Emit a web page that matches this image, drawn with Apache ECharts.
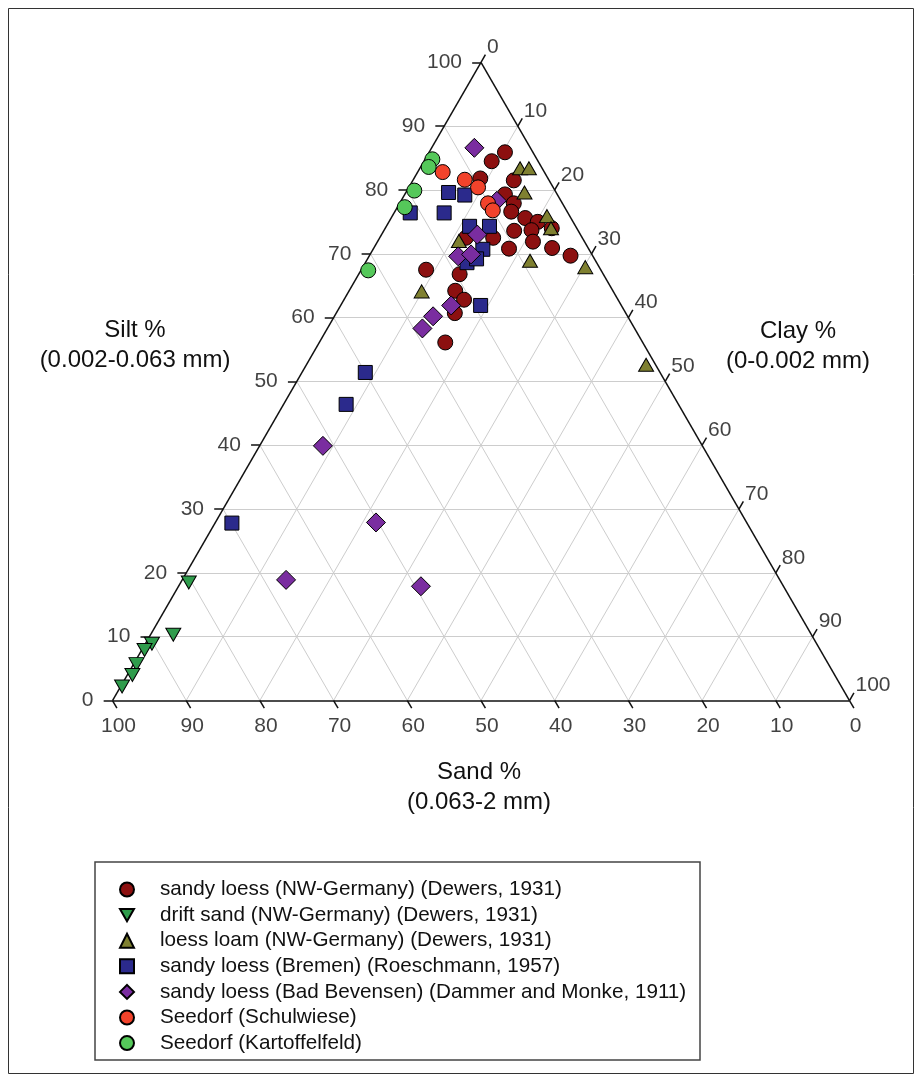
<!DOCTYPE html>
<html><head><meta charset="utf-8">
<script src="https://cdn.jsdelivr.net/npm/echarts@6/dist/echarts.min.js"></script>
<style>html,body{margin:0;padding:0;background:#fff}#c{width:922px;height:1082px}</style>
</head><body><div id="c"></div>
<script>
// Each point: [sand %, silt %, clay %]
const sandyLoessNW = [
  [3.8,85.9,10.3],[6.3,84.5,9.2],[9.2,81.8,9.0],[4.8,81.5,13.7],[7.1,79.3,13.6],
  [6.6,77.9,15.5],[7.6,76.6,15.8],[6.2,75.6,18.2],[4.8,75.0,20.2],[3.4,74.0,22.6],
  [6.3,73.7,20.0],[8.7,73.6,17.7],[7.0,71.9,21.1],[10.8,70.8,18.4],[4.9,70.9,24.2],
  [3.0,69.7,27.3],[15.8,72.5,11.7],[12.1,72.5,15.4],[23.7,67.5,8.8],[19.5,66.8,13.7],
  [21.4,64.2,14.4],[20.9,62.8,16.3],[23.2,60.7,16.1],[26.8,56.1,17.1]
];
const driftSand = [
  [80.4,18.5,1.1],[86.6,10.3,3.1],[90.2,8.9,0.9],[91.7,7.9,0.4],[93.9,5.7,0.4],
  [95.3,4.0,0.7],[97.6,2.2,0.2]
];
const loessLoam = [
  [3.0,83.4,13.6],[1.8,83.4,14.8],[4.3,79.6,16.1],[3.1,75.9,21.0],[3.5,74.0,22.5],
  [8.9,68.9,22.2],[1.9,67.9,30.2],[17.0,72.0,11.0],[26.0,64.1,9.9],[1.3,52.6,46.1]
];
const sandyLoessBremen = [
  [14.6,79.6,5.8],[12.6,79.2,8.2],[16.8,76.4,6.8],[21.4,76.4,2.2],[14.4,74.3,11.3],
  [11.7,74.3,14.0],[14.4,70.7,14.9],[17.6,68.6,13.8],[16.0,69.2,14.8],[19.1,61.9,19.0],
  [40.0,51.4,8.6],[45.1,46.4,8.5],[69.9,27.8,2.3]
];
const sandyLoessBevensen = [
  [7.6,86.6,5.8],[8.7,78.3,13.0],[14.0,73.0,13.0],[18.3,69.6,12.1],[16.4,69.9,13.7],
  [23.1,61.9,15.0],[26.4,60.2,13.4],[28.8,58.3,12.9],[51.5,39.9,8.6],[50.3,27.9,21.8],
  [67.0,18.9,14.1],[49.2,17.9,32.9]
];
const seedorfSchulwiese = [
  [13.8,82.8,3.4],[11.4,81.6,7.0],[10.2,80.4,9.4],[10.1,77.9,12.0],[10.0,76.8,13.2]
];
const seedorfKartoffelfeld = [
  [14.2,84.8,1.0],[15.3,83.6,1.1],[19.1,79.9,1.0],[21.7,77.3,1.0],[31.6,67.4,1.0]
];
const seriesNames = [
  'sandy loess (NW-Germany) (Dewers, 1931)',
  'drift sand (NW-Germany) (Dewers, 1931)',
  'loess loam (NW-Germany) (Dewers, 1931)',
  'sandy loess (Bremen) (Roeschmann, 1957)',
  'sandy loess (Bad Bevensen) (Dammer and Monke, 1911)',
  'Seedorf (Schulwiese)',
  'Seedorf (Kartoffelfeld)'
];
const tickValues = [0,10,20,30,40,50,60,70,80,90,100];
const gridValues = [10,20,30,40,50,60,70,80,90];
const axisTitles = ['Silt %\n(0.002-0.063 mm)', 'Clay %\n(0-0.002 mm)', 'Sand %\n(0.063-2 mm)'];

const H = Math.sqrt(3) / 2;
// ternary [sand, silt, clay] -> cartesian [x, y] in the library's value space
function toXY(t) { return [t[2] + t[1] / 2, t[1] * H]; }

const FONT = "'Liberation Sans', Arial, sans-serif";

const gridLines = [];
gridValues.forEach(v => {
  gridLines.push({coords: [toXY([100 - v, v, 0]), toXY([0, v, 100 - v])]});
  gridLines.push({coords: [toXY([100 - v, 0, v]), toXY([0, 100 - v, v])]});
  gridLines.push({coords: [toXY([v, 0, 100 - v]), toXY([v, 100 - v, 0])]});
});
const edges = [
  {coords: [toXY([100, 0, 0]), toXY([0, 100, 0])]},
  {coords: [toXY([0, 100, 0]), toXY([0, 0, 100])]},
  {coords: [toXY([0, 0, 100]), toXY([100, 0, 0])]}
];
const TL = 1.2;
const ticks = [];
tickValues.forEach(v => {
  const a = toXY([100 - v, v, 0]);
  ticks.push({coords: [a, [a[0] - TL, a[1]]]});
  const b = toXY([v, 0, 100 - v]);
  ticks.push({coords: [b, [b[0] + TL * 0.5, b[1] - TL * H]]});
  const c = toXY([0, 100 - v, v]);
  ticks.push({coords: [c, [c[0] + TL * 0.5, c[1] + TL * H]]});
});

function labelSeries(points, labelOpt) {
  return {
    type: 'scatter', silent: true, clip: false, symbolSize: 1,
    itemStyle: {color: 'rgba(0,0,0,0)'},
    data: points,
    label: Object.assign({show: true, color: '#111', fontSize: 21, fontFamily: FONT,
      formatter: p => String(tickValues[p.dataIndex])}, labelOpt)
  };
}

function dataSeries(name, arr, symbol, size, color) {
  return {
    name, type: 'scatter', clip: false, symbol, symbolSize: size,
    itemStyle: {color, borderColor: '#000', borderWidth: 1, opacity: 1},
    emphasis: {disabled: true},
    data: arr.map(toXY)
  };
}

const chart = echarts.init(document.getElementById('c'), null, {renderer: 'canvas'});
chart.setOption({
  animation: false,
  backgroundColor: '#fff',
  grid: {left: 112.5, top: 62.3, width: 737, height: 638.2},
  xAxis: {type: 'value', min: 0, max: 100, show: false},
  yAxis: {type: 'value', min: 0, max: 100 * H, show: false},
  legend: {
    orient: 'vertical', left: 119, top: 879, padding: 0, itemWidth: 14, itemHeight: 14, itemGap: 4.6,
    data: seriesNames,
    textStyle: {fontSize: 20.7, fontFamily: FONT, color: '#111', lineHeight: 20, padding: [0, 0, 0, 21]}
  },
  graphic: [
    {type: 'rect', shape: {x: 8.5, y: 8.5, width: 905, height: 1065}, style: {fill: 'none', stroke: '#333', lineWidth: 1}, silent: true},
    {type: 'rect', shape: {x: 95, y: 862, width: 605, height: 198}, style: {fill: 'none', stroke: '#444', lineWidth: 1.5}, silent: true},
    {type: 'text', x: 135, y: 345, style: {text: axisTitles[0], font: '24px ' + FONT, fill: '#111', align: 'center', verticalAlign: 'middle', lineHeight: 30}, silent: true},
    {type: 'text', x: 798, y: 346, style: {text: axisTitles[1], font: '24px ' + FONT, fill: '#111', align: 'center', verticalAlign: 'middle', lineHeight: 30}, silent: true},
    {type: 'text', x: 479, y: 787, style: {text: axisTitles[2], font: '24px ' + FONT, fill: '#111', align: 'center', verticalAlign: 'middle', lineHeight: 30}, silent: true}
  ],
  series: [
    {type: 'lines', coordinateSystem: 'cartesian2d', silent: true, clip: false, z: 1,
      lineStyle: {color: '#cdcdcd', width: 1, opacity: 1}, data: gridLines},
    {type: 'lines', coordinateSystem: 'cartesian2d', silent: true, clip: false, z: 2,
      lineStyle: {color: '#111', width: 1.5, opacity: 1}, data: edges.concat(ticks)},
    labelSeries(tickValues.map(v => toXY([100 - v, v, 0])), {position: 'inside', align: 'right', verticalAlign: 'middle', offset: [-19, 0]}),
    labelSeries(tickValues.map(v => toXY([v, 0, 100 - v])), {position: 'inside', align: 'center', verticalAlign: 'middle', offset: [6, 26]}),
    labelSeries(tickValues.map(v => toXY([0, 100 - v, v])), {position: 'inside', align: 'left', verticalAlign: 'middle', offset: [6, -15]}),
    dataSeries(seriesNames[0], sandyLoessNW, 'circle', 15, '#8c1010'),
    dataSeries(seriesNames[1], driftSand, 'path://M0,0 L10,0 L5,8.66 Z', [15, 13], '#2f9c4c'),
    dataSeries(seriesNames[2], loessLoam, 'triangle', [15, 13], '#7f8030'),
    dataSeries(seriesNames[3], sandyLoessBremen, 'rect', 14, '#2b2a8c'),
    dataSeries(seriesNames[4], sandyLoessBevensen, 'diamond', [19, 19], '#7a2da0'),
    dataSeries(seriesNames[5], seedorfSchulwiese, 'circle', 15, '#f2432b'),
    dataSeries(seriesNames[6], seedorfKartoffelfeld, 'circle', 15, '#55c85a')
  ]
});
</script></body></html>
